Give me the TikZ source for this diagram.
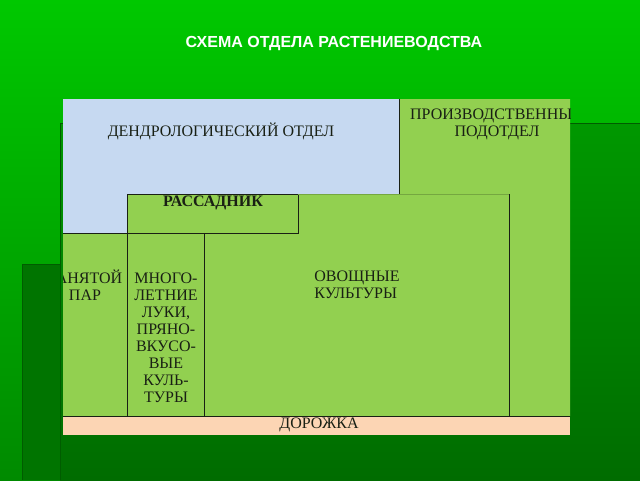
\documentclass[tikz,border=0pt]{standalone}
\usepackage{fontspec}
\setmainfont{Liberation Serif}
\setsansfont{Liberation Sans}
\usepackage{tikz}

\definecolor{slidetop}{RGB}{0,200,0}
\definecolor{slidebottom}{RGB}{0,138,0}
\definecolor{panetop}{RGB}{0,152,0}
\definecolor{panebottom}{RGB}{0,108,0}
\definecolor{stripgreen}{RGB}{0,116,0}
\definecolor{dendroblue}{RGB}{198,217,241}
\definecolor{plotgreen}{RGB}{146,208,80}
\definecolor{pathpeach}{RGB}{252,213,180}
\definecolor{inkdark}{RGB}{25,32,20}

\begin{document}
\begin{tikzpicture}[x=1pt,y=-1pt,
    bedline/.style={draw=inkdark, line width=0.9pt},
    bedlabel/.style={text=inkdark, font=\fontsize{16}{17}\selectfont, inner sep=0pt, align=center}]
        \useasboundingbox (0,0) rectangle (640,480);
        % slide background
        \shade[top color=slidetop, bottom color=slidebottom] (0,0) rectangle (640,480);
        \shade[top color=panetop, bottom color=panebottom] (60,123) rectangle (640,480);
        \fill[stripgreen] (22,264) rectangle (60,480);
        \draw[panebottom!85!black, line width=1pt] (60,480) -- (60,123) -- (640,123);
        \draw[panebottom!85!black, line width=1pt] (22,480) -- (22,264) -- (60,264);
        \node[font=\sffamily\bfseries\fontsize{16}{18}\selectfont, text=white, inner sep=0pt] (title) at (334,44) {СХЕМА ОТДЕЛА РАСТЕНИЕВОДСТВА};

        % plot areas
        \coordinate (nw) at (63,99);
        \coordinate (ne) at (570,99);
        \fill[dendroblue] (nw) -- (399,99) -- (399,194) -- (127,194) -- (127,233) -- (63,233) -- cycle;
        \fill[plotgreen] (399,99) -- (ne) -- (570,416) -- (63,416) -- (63,233) -- (127,233) -- (127,194) -- (399,194) -- cycle;
        \fill[pathpeach] (63,416) rectangle (570,435);

        % borders between plots
        \draw[bedline] (399,99) -- (399,194);
        \draw[bedline] (127,194) -- (298,194) -- (298,233) -- (63,233);
        \draw[plotgreen!80!black, line width=0.6pt] (298,194) -- (509,194);
        \draw[bedline] (127,194) -- (127,416);
        \draw[bedline] (204,233) -- (204,416);
        \draw[bedline] (509,194) -- (509,416);
        \draw[bedline] (63,416) -- (570,416);

        % labels
        \begin{scope}
            \clip (nw) rectangle (570,480);
            \node[bedlabel] (dendro) at (221,131) {ДЕНДРОЛОГИЧЕСКИЙ ОТДЕЛ};
            \node[bedlabel] (prod) at (497,123) {ПРОИЗВОДСТВЕННЫЙ\\ПОДОТДЕЛ};
            \node[bedlabel, font=\bfseries\fontsize{16}{17}\selectfont] (seed) at (213,203) {РАССАДНИК};
            \node[bedlabel] (fallow) at (85,285) {ЗАНЯТОЙ\\ПАР};
            \node[bedlabel] (onion) at (166,338) {МНОГО-\\ЛЕТНИЕ\\ЛУКИ,\\ПРЯНО-\\ВКУСО-\\ВЫЕ\\КУЛЬ-\\ТУРЫ};
            \node[bedlabel, align=left] (veg) at (357,285) {ОВОЩНЫЕ\\КУЛЬТУРЫ};
            \node[bedlabel] (path) at (319,425) {ДОРОЖКА};
        \end{scope}
    \end{tikzpicture}
\end{document}
